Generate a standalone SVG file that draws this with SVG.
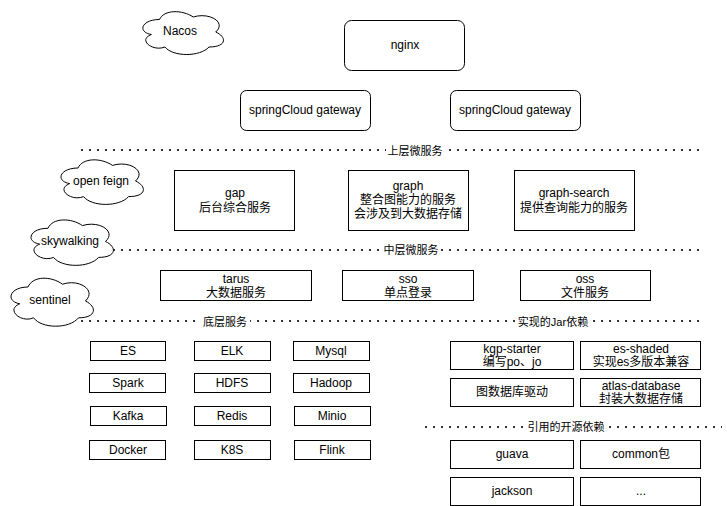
<svg xmlns="http://www.w3.org/2000/svg" width="727" height="506" viewBox="0 0 727 506">
<style>
.bg{fill:#fff}
.box{fill:#fff;stroke:#000;stroke-width:1}
.cloud{fill:#fff;stroke:#000;stroke-width:1}
.dot{fill:none;stroke:#333;stroke-width:2;stroke-dasharray:2 6}
text{font-family:"Liberation Sans","Noto Sans CJK SC",Arial,sans-serif;font-size:12px;fill:#000;text-anchor:middle;dominant-baseline:central}
.lbl{font-size:11px}
</style>
<rect class="bg" x="0" y="0" width="727" height="506"/>

<g id="connectors">
  <line class="dot" x1="81" y1="150" x2="702" y2="150"/>
  <line class="dot" x1="81" y1="250" x2="702" y2="250"/>
  <line class="dot" x1="81" y1="321" x2="702" y2="321"/>
  <line class="dot" x1="425" y1="427" x2="722" y2="427"/>
  <rect class="bg" x="386" y="143" width="58" height="15"/>
  <text class="lbl" x="415" y="151">上层微服务</text>
  <rect class="bg" x="382" y="243" width="58" height="15"/>
  <text class="lbl" x="411" y="250">中层微服务</text>
  <rect class="bg" x="200" y="314" width="50" height="15"/>
  <text class="lbl" x="225" y="322">底层服务</text>
  <rect class="bg" x="515" y="314" width="76" height="15"/>
  <text class="lbl" x="553" y="322">实现的Jar依赖</text>
  <rect class="bg" x="527" y="420" width="78" height="15"/>
  <text class="lbl" x="566" y="427">引用的开源依赖</text>
</g>

<g id="nacos">
  <path class="cloud" d="M159.5,19.5 C141.5,19.5 137,32 151.4,34.5 C137,40 153.2,52 164.9,47 C173,57 200,57 209,47 C227,47 227,37 215.75,32 C227,22 209,12 193.25,17 C182,9.5 164,9.5 159.5,19.5 Z"/>
  <text x="180" y="31">Nacos</text>
</g>
<g id="openfeign">
  <path class="cloud" d="M78,168 C59.6,168 55,181 69.72,183.6 C55,189.32 71.56,201.8 83.52,196.6 C91.8,207 119.4,207 128.6,196.6 C147,196.6 147,186.2 135.5,181 C147,170.6 128.6,160.2 112.5,165.4 C101,157.6 82.6,157.6 78,168 Z"/>
  <text x="101" y="181">open feign</text>
</g>
<g id="skywalking">
  <path class="cloud" d="M48,228.25 C29.6,228.25 25,241.5 39.72,244.15 C25,249.98 41.56,262.7 53.52,257.4 C61.8,268 89.4,268 98.6,257.4 C117,257.4 117,246.8 105.5,241.5 C117,230.9 98.6,220.3 82.5,225.6 C71,217.65 52.6,217.65 48,228.25 Z"/>
  <text x="70" y="241">skywalking</text>
</g>
<g id="sentinel">
  <path class="cloud" d="M28,287 C9.6,287 5,301 19.72,303.8 C5,309.96 21.56,323.4 33.52,317.8 C41.8,329 69.4,329 78.6,317.8 C97,317.8 97,306.6 85.5,301 C97,289.8 78.6,278.6 62.5,284.2 C51,275.8 32.6,275.8 28,287 Z"/>
  <text x="50" y="300">sentinel</text>
</g>

<g id="nginx"><rect class="box" x="344.5" y="20.5" width="120" height="50" rx="7"/><text x="405" y="45">nginx</text></g>
<g id="gateway1"><rect class="box" x="240.5" y="90.5" width="130" height="40" rx="6"/><text x="305" y="110">springCloud gateway</text></g>
<g id="gateway2"><rect class="box" x="450.5" y="90.5" width="130" height="40" rx="6"/><text x="515" y="110">springCloud gateway</text></g>

<g id="gap"><rect class="box" x="174.5" y="170.5" width="120" height="60"/><text x="235" y="193">gap</text><text x="235" y="208">后台综合服务</text></g>
<g id="graph"><rect class="box" x="348.5" y="170.5" width="120" height="60"/><text x="408" y="186">graph</text><text x="408" y="200">整合图能力的服务</text><text x="408" y="214">会涉及到大数据存储</text></g>
<g id="graph-search"><rect class="box" x="514.5" y="170.5" width="120" height="60"/><text x="574" y="193">graph-search</text><text x="574" y="208">提供查询能力的服务</text></g>

<g id="tarus"><rect class="box" x="160.5" y="270.5" width="151" height="30"/><text x="236" y="279">tarus</text><text x="236" y="293">大数据服务</text></g>
<g id="sso"><rect class="box" x="342.5" y="270.5" width="131" height="30"/><text x="408" y="279">sso</text><text x="408" y="293">单点登录</text></g>
<g id="oss"><rect class="box" x="520.5" y="270.5" width="130" height="30"/><text x="585" y="279">oss</text><text x="585" y="293">文件服务</text></g>

<g id="es"><rect class="box" x="90.5" y="341.5" width="75" height="19"/><text x="128" y="351">ES</text></g>
<g id="elk"><rect class="box" x="194.5" y="341.5" width="76" height="19"/><text x="232" y="351">ELK</text></g>
<g id="mysql"><rect class="box" x="293.5" y="341.5" width="76" height="19"/><text x="331" y="351">Mysql</text></g>
<g id="spark"><rect class="box" x="89.5" y="373.5" width="76" height="19"/><text x="128" y="383">Spark</text></g>
<g id="hdfs"><rect class="box" x="194.5" y="373.5" width="76" height="19"/><text x="232" y="383">HDFS</text></g>
<g id="hadoop"><rect class="box" x="293.5" y="373.5" width="76" height="19"/><text x="331" y="383">Hadoop</text></g>
<g id="kafka"><rect class="box" x="90.5" y="406.5" width="76" height="19"/><text x="128" y="416">Kafka</text></g>
<g id="redis"><rect class="box" x="194.5" y="406.5" width="76" height="19"/><text x="232" y="416">Redis</text></g>
<g id="minio"><rect class="box" x="294.5" y="406.5" width="76" height="19"/><text x="332" y="416">Minio</text></g>
<g id="docker"><rect class="box" x="89.5" y="440.5" width="76" height="19"/><text x="128" y="450">Docker</text></g>
<g id="k8s"><rect class="box" x="194.5" y="440.5" width="76" height="19"/><text x="232" y="450">K8S</text></g>
<g id="flink"><rect class="box" x="294.5" y="440.5" width="76" height="19"/><text x="332" y="450">Flink</text></g>

<g id="kgp-starter"><rect class="box" x="450.5" y="341.5" width="123" height="28"/><text x="512" y="349">kgp-starter</text><text x="512" y="362">编写po、jo</text></g>
<g id="es-shaded"><rect class="box" x="580.5" y="341.5" width="120" height="28"/><text x="641" y="349">es-shaded</text><text x="641" y="362">实现es多版本兼容</text></g>
<g id="graph-driver"><rect class="box" x="450.5" y="378.5" width="123" height="28"/><text x="512" y="392">图数据库驱动</text></g>
<g id="atlas-database"><rect class="box" x="580.5" y="378.5" width="120" height="28"/><text x="641" y="386">atlas-database</text><text x="641" y="399">封装大数据存储</text></g>

<g id="guava"><rect class="box" x="450.5" y="440.5" width="123" height="28"/><text x="512" y="454">guava</text></g>
<g id="common"><rect class="box" x="580.5" y="440.5" width="120" height="28"/><text x="641" y="454">common包</text></g>
<g id="jackson"><rect class="box" x="450.5" y="477.5" width="123" height="28"/><text x="512" y="491">jackson</text></g>
<g id="more"><rect class="box" x="580.5" y="477.5" width="120" height="28"/><text x="641" y="491">...</text></g>
</svg>
